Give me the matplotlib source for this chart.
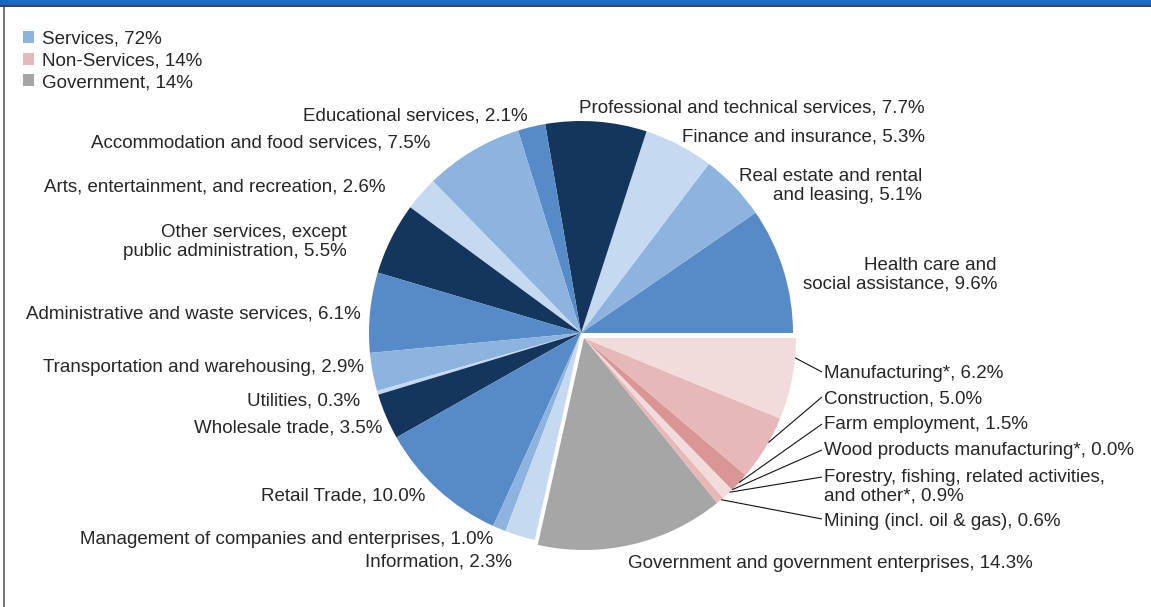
import matplotlib
matplotlib.use("Agg")
import matplotlib.pyplot as plt
from matplotlib.patches import Patch, Rectangle
import numpy as np

plt.rcParams["font.family"] = ["Liberation Sans", "DejaVu Sans"]

# ---- data -------------------------------------------------------------
service_names = [
    "Health care and\nsocial assistance",
    "Real estate and rental\nand leasing",
    "Finance and insurance",
    "Professional and technical services",
    "Educational services",
    "Accommodation and food services",
    "Arts, entertainment, and recreation",
    "Other services, except\npublic administration",
    "Administrative and waste services",
    "Transportation and warehousing",
    "Utilities",
    "Wholesale trade",
    "Retail Trade",
    "Management of companies and enterprises",
    "Information",
]
service_values = [9.6, 5.1, 5.3, 7.7, 2.1, 7.5, 2.6, 5.5, 6.1, 2.9, 0.3, 3.5, 10.0, 1.0, 2.3]

government_name = "Government and government enterprises"
government_value = 14.3

nonservice_names = [
    "Mining (incl. oil & gas)",
    "Forestry, fishing, related activities,\nand other*",
    "Wood products manufacturing*",
    "Farm employment",
    "Construction",
    "Manufacturing*",
]
nonservice_values = [0.6, 0.9, 0.0, 1.5, 5.0, 6.2]

group_names = ["Services", "Non-Services", "Government"]
group_shares = [72, 14, 14]

# ---- colours ----------------------------------------------------------
MID, LIGHT, PALE, NAVY = "#568BC8", "#8DB3DF", "#C5D9F0", "#14365C"
service_colors = [MID, LIGHT, PALE, NAVY] * 4
government_color = "#A6A6A6"
nonservice_colors = ["#E6B9B8", "#F2DCDB", "#E6B9B8", "#D99694", "#E6B9B8", "#F2DCDB"]
group_colors = ["#8DB3DF", "#E6B9B8", "#A6A6A6"]
TEXT = "#262626"

# ---- figure / pixel helpers -------------------------------------------
W, H = 1151, 607
fig = plt.figure(figsize=(W / 100, H / 100), dpi=100)
ax = fig.add_axes([0, 0, 1, 1])

S = 212.0              # pixels per data unit (pie radius)
CX, CY = 581.0, 333.0  # pie centre in pixels


def px(x, y):
    return (x - CX) / S, (CY - y) / S


values = service_values[:] + [government_value] + nonservice_values
colors = service_colors[:len(service_values)] + [government_color] + nonservice_colors
n_serv = len(service_values)

# services around the true centre
w1, _ = ax.pie(values, colors=colors, startangle=0, counterclock=True,
               center=(0, 0), radius=1.0, wedgeprops=dict(linewidth=0))
# government + non-services pulled out together
offset = (3.0 / S, -5.0 / S)
w2, _ = ax.pie(values, colors=colors, startangle=0, counterclock=True,
               center=offset, radius=1.0, wedgeprops=dict(linewidth=0))
for i in range(len(values)):
    w1[i].set_visible(i < n_serv)
    w2[i].set_visible(i >= n_serv)

FS = 13.5
LS = 1.1

# service labels: (x px, y px, ha)
service_label_pos = [
    (997, 275, "right"),
    (922, 186, "right"),
    (925, 137, "right"),
    (925, 108, "right"),
    (528, 116, "right"),
    (430, 143, "right"),
    (386, 187, "right"),
    (347, 242, "right"),
    (361, 314, "right"),
    (364, 368, "right"),
    (360, 401, "right"),
    (382, 428, "right"),
    (425, 496, "right"),
    (493, 540, "right"),
    (512, 562, "right"),
]
for name, val, (x, y, ha) in zip(service_names, service_values, service_label_pos):
    ax.text(*px(x, y), f"{name}, {val:.1f}%", ha=ha, va="center",
            multialignment="right", fontsize=FS, color=TEXT, linespacing=LS)

ax.text(*px(628, 563), f"{government_name}, {government_value:.1f}%",
        ha="left", va="center", fontsize=FS, color=TEXT)

# non-service labels with leader lines
ns_label_y = [521, 487, 451, 425, 399, 374]
ns_leader_y = [519, 477, 450, 424, 397, 372]
ns_anchor_frac = [0.66, 0.7, 0.5, 0.5, 0.6, 0.76]
LX = 824
for k, (name, val) in enumerate(zip(nonservice_names, nonservice_values)):
    wd = w2[n_serv + 1 + k]
    ang = np.deg2rad(wd.theta1 + ns_anchor_frac[k] * (wd.theta2 - wd.theta1))
    r = 1.0
    ax0 = offset[0] + r * np.cos(ang)
    ay0 = offset[1] + r * np.sin(ang)
    ex, ey = px(LX - 2, ns_leader_y[k])
    ax.plot([ax0, ex], [ay0, ey], color="#111111", lw=0.8, solid_capstyle="butt")
    ax.text(*px(LX, ns_label_y[k]), f"{name}, {val:.1f}%", ha="left", va="center",
            fontsize=FS, color=TEXT, linespacing=LS)

ax.set_xlim(-CX / S, (W - CX) / S)
ax.set_ylim((CY - H) / S, CY / S)
ax.set_aspect("auto")
ax.axis("off")

# legend
handles = [Patch(facecolor=c, edgecolor="none") for c in group_colors]
labels = [f"{n}, {v}%" for n, v in zip(group_names, group_shares)]
fig.legend(handles, labels, loc="upper left", bbox_to_anchor=(17 / W, 1 - 25 / H),
           frameon=False, fontsize=FS, handlelength=0.6, handleheight=0.6,
           handletextpad=0.42, labelspacing=0.25, borderaxespad=0, borderpad=0.3,
           labelcolor=TEXT)

# frame: blue header band and thin left rule
fig.patches.append(Rectangle((0, 1 - 5 / H), 1, 5 / H, transform=fig.transFigure,
                             facecolor="#1A6BB8", edgecolor="none"))
fig.patches.append(Rectangle((0, 1 - 7 / H), 1, 2 / H, transform=fig.transFigure,
                             facecolor="#3A4654", edgecolor="none"))
fig.patches.append(Rectangle((3 / W, 0), 2 / W, 1 - 7 / H, transform=fig.transFigure,
                             facecolor="#777777", edgecolor="none"))

fig.savefig("out.png", dpi=100, facecolor="white")
